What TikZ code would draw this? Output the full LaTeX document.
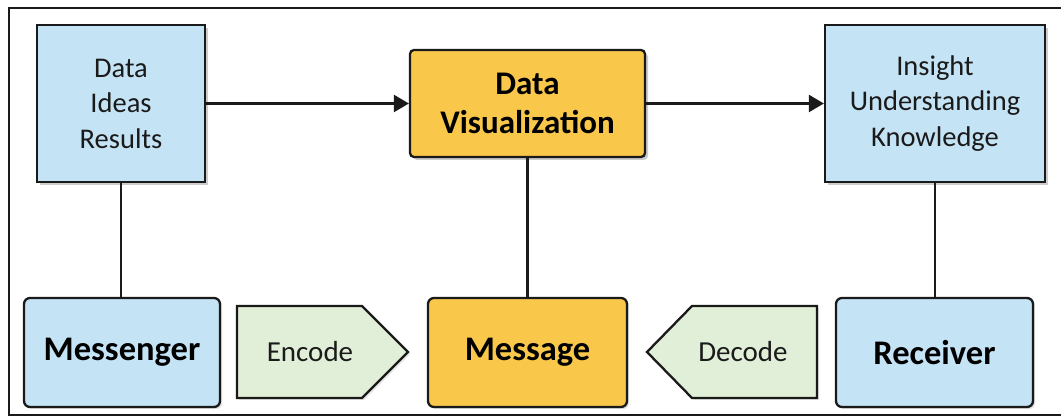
\documentclass[tikz,border=0pt]{standalone}
\usepackage{fontspec}
\setmainfont{Carlito}
\usetikzlibrary{arrows.meta,shadows}
\definecolor{boxblue}{HTML}{C4E3F5}
\definecolor{boxyellow}{HTML}{F9C84A}
\definecolor{boxgreen}{HTML}{E2EFD8}
\definecolor{edge}{HTML}{1A1A1A}
\definecolor{txt}{HTML}{1A1A1A}
\begin{document}
\begin{tikzpicture}[x=1pt,y=-1pt,
  topbox/.style={draw=edge, line width=2.3pt, fill=boxblue, align=center, inner sep=0pt,
    text=txt, font=\fontsize{28.5}{35.5}\selectfont,
    drop shadow={opacity=0.4, shadow xshift=3pt, shadow yshift=-3pt}},
  vizbox/.style={draw=edge, line width=2.3pt, fill=boxyellow, rounded corners=4pt, align=center,
    inner sep=0pt, font=\fontsize{33}{39}\selectfont\bfseries,
    drop shadow={opacity=0.4, shadow xshift=3pt, shadow yshift=-3pt}},
  botbox/.style={draw=edge, line width=2.3pt, rounded corners=6pt, inner sep=0pt,
    font=\fontsize{34.5}{40}\selectfont\bfseries,
    drop shadow={opacity=0.25, shadow xshift=2pt, shadow yshift=-2pt}},
  codebox/.style={draw=edge, line width=2.3pt, fill=boxgreen,
    drop shadow={opacity=0.2, shadow xshift=2pt, shadow yshift=-2pt}},
  codetext/.style={font=\fontsize{29}{34}\selectfont, text=txt, inner sep=0pt},
  link/.style={draw=edge, line width=2.4pt},
  flow/.style={link, -{Triangle[length=15pt,width=17pt]}}
]
\useasboundingbox (0,0) rectangle (1061,419);
\fill[white] (0,0) rectangle (1061,419);
\draw[edge, line width=1.8pt] (9,8) rectangle (1066,415);

% top row
\node[topbox, minimum width=168pt, minimum height=157pt] (src) at (121,103.5) {Data\\Ideas\\Results};
\node[vizbox, minimum width=235pt, minimum height=107pt] (viz) at (527.5,103.5) {Data\\Visualization};
\node[topbox, minimum width=220pt, minimum height=157pt] (ins) at (935,103.5) {Insight\\Understanding\\Knowledge};

% bottom row
\node[botbox, fill=boxblue, minimum width=196pt, minimum height=109pt] (msgr) at (122,352.5) {Messenger};
\node[botbox, fill=boxyellow, minimum width=199pt, minimum height=109pt] (msg) at (527.5,352.5) {Message};
\node[botbox, fill=boxblue, minimum width=197pt, minimum height=109pt] (rcv) at (934.5,352.5) {Receiver};

% encode / decode arrows
\draw[codebox] (237,306) -- (362,306) -- (408,352) -- (362,398) -- (237,398) -- cycle;
\node[codetext] (enc) at (310,352) {Encode};
\draw[codebox] (817,306) -- (692,306) -- (647,352) -- (692,398) -- (817,398) -- cycle;
\node[codetext] (dec) at (743,352) {Decode};

% connectors
\draw[flow] (src.east) -- (viz.west);
\draw[flow] (viz.east) -- (ins.west);
\draw[link] (src.south) -- (src.south |- msgr.north);
\draw[link] (viz.south) -- (viz.south |- msg.north);
\draw[link] (ins.south) -- (ins.south |- rcv.north);
\end{tikzpicture}
\end{document}
